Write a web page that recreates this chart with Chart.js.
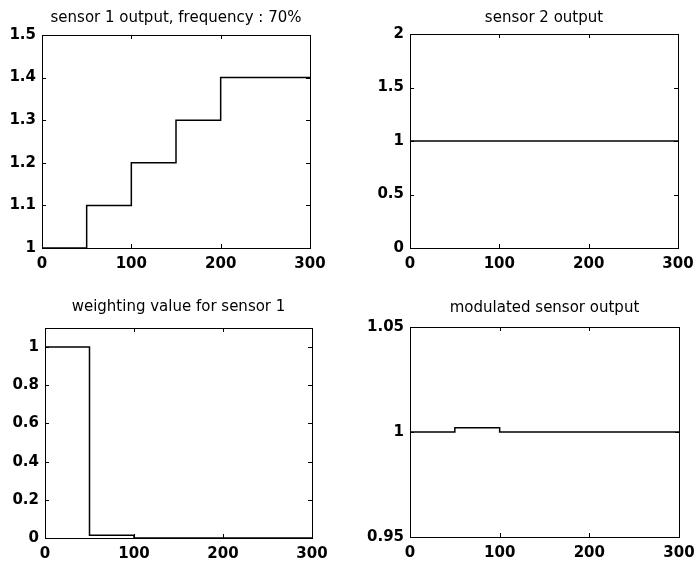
<!DOCTYPE html>
<html>
<head>
<meta charset="utf-8">
<script src="https://cdn.jsdelivr.net/npm/chart.js@4"></script>
<style>
  body { margin: 0; background: #fff; }
  #page { position: relative; width: 696px; height: 563px; }
  canvas { position: absolute; }
</style>
</head>
<body>
<div id="page">
  <canvas id="c1" width="348" height="280" style="left:0;top:0"></canvas>
  <canvas id="c2" width="348" height="280" style="left:348px;top:0"></canvas>
  <canvas id="c3" width="348" height="283" style="left:0;top:280px"></canvas>
  <canvas id="c4" width="348" height="283" style="left:348px;top:280px"></canvas>
</div>
<script>
// step points (value holds until the next x)
const s1X = [0, 50, 100, 150, 200, 300];
const s1Y = [1, 1.1, 1.2, 1.3, 1.4, 1.4];
const s2X = [0, 300];
const s2Y = [1, 1];
const wX = [0, 50, 100, 300];
const wY = [1, 0.015, 0, 0];
const mX = [0, 50, 100, 300];
const mY = [1, 1.002, 1, 1];

const xTicks = [0, 100, 200, 300];
const s1Ticks = [1, 1.1, 1.2, 1.3, 1.4, 1.5];
const s2Ticks = [0, 0.5, 1, 1.5, 2];
const wTicks = [0, 0.2, 0.4, 0.6, 0.8, 1];
const mTicks = [0.95, 1, 1.05];

const tickFont = { family: 'DejaVu Sans', size: 15, weight: 'bold' };
const titleFont = { family: 'DejaVu Sans', size: 15, weight: 'normal', lineHeight: 1.2 };
const fmt = v => String(+Number(v).toFixed(4));

// box round the plot with small inward ticks, like the original
const frame = {
  id: 'frame',
  afterDatasetsDraw(chart) {
    const { ctx, chartArea: a, scales: { x, y } } = chart;
    ctx.save();
    ctx.strokeStyle = '#000';
    ctx.lineWidth = 1;
    ctx.strokeRect(Math.round(a.left) + 0.5, Math.round(a.top) + 0.5,
      Math.round(a.width), Math.round(a.height));
    ctx.beginPath();
    x.ticks.forEach(t => {
      const px = Math.round(x.getPixelForValue(t.value)) + 0.5;
      ctx.moveTo(px, a.bottom); ctx.lineTo(px, a.bottom - 4);
      ctx.moveTo(px, a.top); ctx.lineTo(px, a.top + 4);
    });
    y.ticks.forEach(t => {
      const py = Math.round(y.getPixelForValue(t.value)) + 0.5;
      ctx.moveTo(a.left, py); ctx.lineTo(a.left + 4, py);
      ctx.moveTo(a.right, py); ctx.lineTo(a.right - 4, py);
    });
    ctx.stroke();
    ctx.restore();
  }
};

function makeChart(id, title, xs, ys, yMin, yMax, yTicks, box) {
  const pts = xs.map((x, i) => ({ x: x, y: ys[i] }));
  new Chart(document.getElementById(id), {
    type: 'line',
    data: {
      datasets: [{
        data: pts,
        stepped: 'before',
        borderColor: '#000',
        borderWidth: 1.5,
        pointRadius: 0,
        fill: false
      }]
    },
    options: {
      responsive: false,
      animation: false,
      layout: { padding: { left: 0, top: 0, right: box.right, bottom: 0 } },
      plugins: {
        legend: { display: false },
        tooltip: { enabled: false },
        title: {
          display: true,
          text: title,
          color: '#000',
          font: titleFont,
          fullSize: false,
          padding: { top: box.tpTop, bottom: box.tpBottom }
        }
      },
      scales: {
        x: {
          type: 'linear',
          min: 0,
          max: 300,
          grid: { display: false, drawTicks: false, tickLength: 0 },
          border: { display: false },
          afterBuildTicks: s => { s.ticks = xTicks.map(v => ({ value: v })); },
          afterFit: s => { s.height = box.bottom; s.paddingLeft = 0; s.paddingRight = 0; },
          ticks: { color: '#000', font: tickFont, padding: 7, maxRotation: 0, callback: fmt }
        },
        y: {
          min: yMin,
          max: yMax,
          grid: { display: false, drawTicks: false, tickLength: 0 },
          border: { display: false },
          afterBuildTicks: s => { s.ticks = yTicks.map(v => ({ value: v })); },
          afterFit: s => { s.width = box.left; s.paddingTop = 0; s.paddingBottom = 0; },
          ticks: { color: '#000', font: tickFont, padding: 6, callback: fmt }
        }
      }
    },
    plugins: [frame]
  });
}

makeChart('c1', 'sensor 1 output, frequency : 70%', s1X, s1Y, 1, 1.5, s1Ticks,
  { left: 42, right: 38, bottom: 32, tpTop: 9, tpBottom: 8 });
makeChart('c2', 'sensor 2 output', s2X, s2Y, 0, 2, s2Ticks,
  { left: 62, right: 18, bottom: 32, tpTop: 9, tpBottom: 7 });
makeChart('c3', 'weighting value for sensor 1', wX, wY, 0, 1.1, wTicks,
  { left: 45, right: 36, bottom: 25, tpTop: 18, tpBottom: 12 });
makeChart('c4', 'modulated sensor output', mX, mY, 0.95, 1.05, mTicks,
  { left: 62, right: 17, bottom: 26, tpTop: 19, tpBottom: 10 });
</script>
</body>
</html>
